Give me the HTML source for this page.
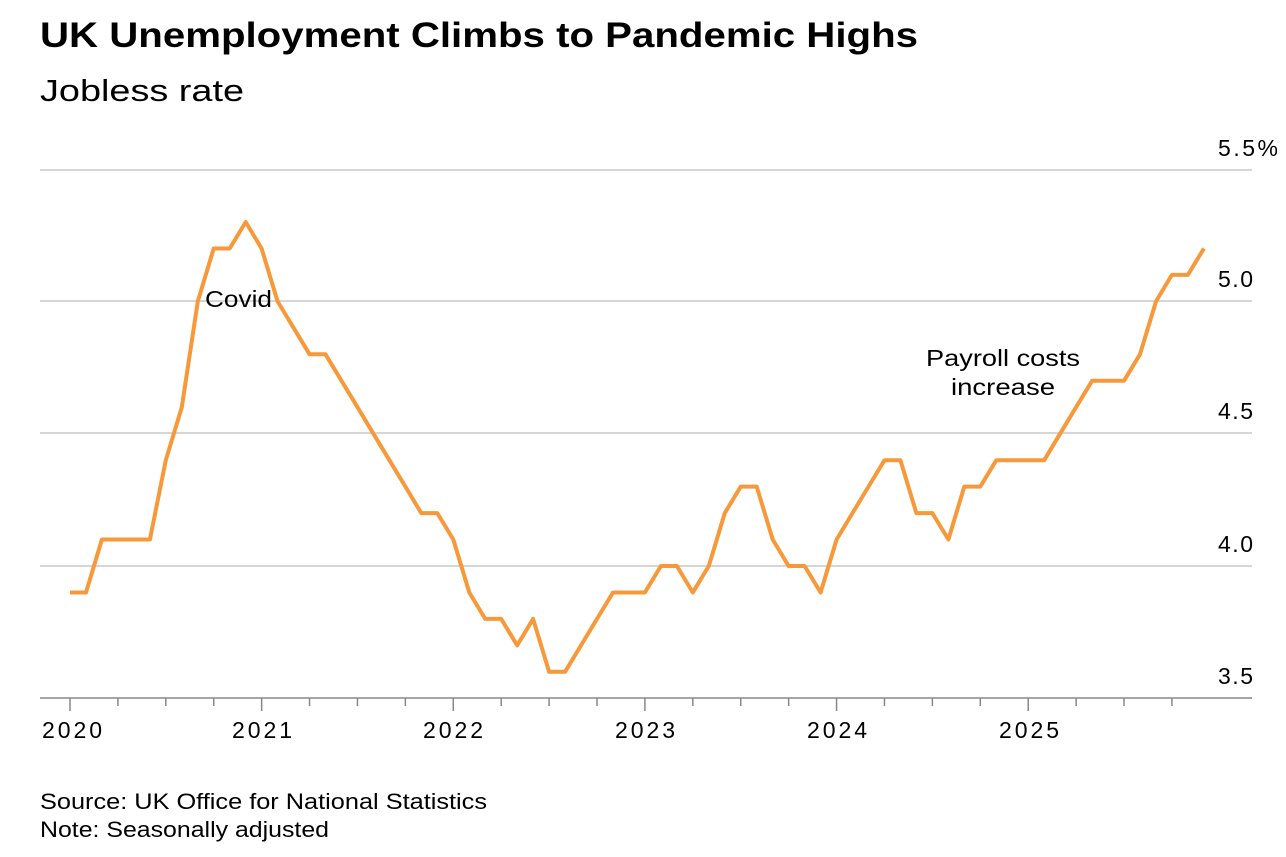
<!DOCTYPE html>
<html><head><meta charset="utf-8"><style>
body{margin:0;background:#fff;width:1286px;height:852px;overflow:hidden;font-family:"Liberation Sans",sans-serif;}
</style></head><body>
<svg width="1286" height="852" xmlns="http://www.w3.org/2000/svg" font-family="Liberation Sans, sans-serif">
<text x="40" y="47" font-size="35" font-weight="bold" fill="#000" textLength="878" lengthAdjust="spacingAndGlyphs">UK Unemployment Climbs to Pandemic Highs</text>
<text x="40" y="101" font-size="31" fill="#000" textLength="204" lengthAdjust="spacingAndGlyphs">Jobless rate</text>
<g stroke="#c8c8c8" stroke-width="1.5">
<line x1="40" y1="170" x2="1252" y2="170"/>
<line x1="40" y1="301" x2="1252" y2="301"/>
<line x1="40" y1="433" x2="1252" y2="433"/>
<line x1="40" y1="566" x2="1252" y2="566"/>
</g>
<line x1="40" y1="698" x2="1252" y2="698" stroke="#888" stroke-width="1.5"/>
<g font-size="23" fill="#000" lengthAdjust="spacingAndGlyphs">
<text x="1218" y="156" textLength="60">5.5%</text>
<text x="1218" y="287" textLength="35">5.0</text>
<text x="1218" y="419" textLength="35">4.5</text>
<text x="1218" y="552" textLength="35">4.0</text>
<text x="1218" y="684" textLength="35">3.5</text>
</g>
<g stroke="#888" stroke-width="1.5" id="ticks"></g>
<g font-size="23" fill="#000" text-anchor="middle" lengthAdjust="spacingAndGlyphs">
<text x="72" y="738" textLength="60">2020</text><text x="262" y="738" textLength="60">2021</text><text x="453" y="738" textLength="60">2022</text>
<text x="645" y="738" textLength="60">2023</text><text x="837" y="738" textLength="60">2024</text><text x="1029" y="738" textLength="60">2025</text>
</g>
<polyline id="line" fill="none" stroke="#f7993a" stroke-width="4" stroke-linejoin="round" points=""/>
<text x="205" y="307" font-size="23" fill="#000" textLength="67" lengthAdjust="spacingAndGlyphs">Covid</text>
<text x="1003" y="366" font-size="23" fill="#000" text-anchor="middle" textLength="154" lengthAdjust="spacingAndGlyphs">Payroll costs</text>
<text x="1003" y="395" font-size="23" fill="#000" text-anchor="middle" textLength="104" lengthAdjust="spacingAndGlyphs">increase</text>
<text x="40" y="809" font-size="22" fill="#000" textLength="447" lengthAdjust="spacingAndGlyphs">Source: UK Office for National Statistics</text>
<text x="40" y="837" font-size="22" fill="#000" textLength="289" lengthAdjust="spacingAndGlyphs">Note: Seasonally adjusted</text>
</svg>
<script>
var v=[3.9,3.9,4.1,4.1,4.1,4.1,4.4,4.6,5.0,5.2,5.2,5.3,5.2,5.0,4.9,4.8,4.8,4.7,4.6,4.5,4.4,4.3,4.2,4.2,4.1,3.9,3.8,3.8,3.7,3.8,3.6,3.6,3.7,3.8,3.9,3.9,3.9,4.0,4.0,3.9,4.0,4.2,4.3,4.3,4.1,4.0,4.0,3.9,4.1,4.2,4.3,4.4,4.4,4.2,4.2,4.1,4.3,4.3,4.4,4.4,4.4,4.4,4.5,4.6,4.7,4.7,4.7,4.8,5.0,5.1,5.1,5.2];
var p=v.map(function(d,i){return (70+i*15.97).toFixed(1)+","+(566-(d-4)*264.6).toFixed(1)}).join(" ");
document.getElementById("line").setAttribute("points",p);
var g=document.getElementById("ticks"),s="";
for(var i=0;i<72;i+=3){var x=70+i*15.97;s+='<line x1="'+x+'" y1="698" x2="'+x+'" y2="'+(i%12==0?711:706)+'"/>';}
g.innerHTML=s;
</script>
</body></html>
